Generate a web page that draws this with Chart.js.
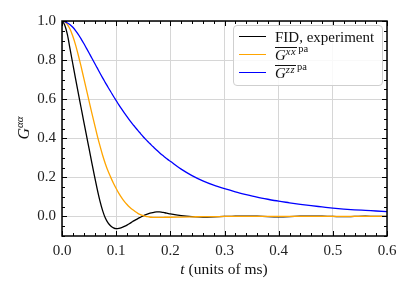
<!DOCTYPE html>
<html>
<head>
<meta charset="utf-8">
<script src="https://cdn.jsdelivr.net/npm/chart.js@4.4.1/dist/chart.umd.min.js"></script>
<style>
  body { margin: 0; background: #fff; }
  #wrap { position: relative; width: 415px; height: 295px; font-family: "Liberation Serif", serif; color: #111; }
  #legend {
    position: absolute; left: 233px; top: 25px; width: 148px; height: 59px;
    border: 1px solid #cfcfcf; border-radius: 4px; background: rgba(255,255,255,0.85);
    font-size: 15px;
  }
  .swatch { position: absolute; left: 5px; width: 27px; height: 1.4px; }
  .lbl { position: absolute; left: 41px; height: 18px; line-height: 18px; white-space: nowrap; }
  .ov { display: inline-block; border-top: 1px solid #111; line-height: 14px; padding-right: 1px; }
  .ov i.s { font-size: 10.5px; position: relative; top: -5px; letter-spacing: 0.5px; }
  .pa { font-size: 10.5px; position: relative; top: -8px; margin-left: 1px; }
  #ytitle { position: absolute; left: 4px; top: 118px; width: 40px; height: 20px; line-height: 20px; font-size: 16px; transform: rotate(-90deg); text-align: center; }
  #ytitle i.s { font-size: 11px; position: relative; top: -6px; }
  #xtitle { position: absolute; left: 124px; top: 260px; width: 200px; text-align: center; font-size: 15.5px; }
</style>
</head>
<body>
<div id="wrap">
  <canvas id="chart" width="415" height="295"></canvas>
  <div id="legend">
    <div class="swatch" style="top:10px;background:#000"></div>
    <div class="lbl" style="top:2px">FID, experiment</div>
    <div class="swatch" style="top:28px;background:#ffa500"></div>
    <div class="lbl" style="top:20px"><span class="ov"><i>G</i><i class="s">xx</i></span><span class="pa">pa</span></div>
    <div class="swatch" style="top:46px;background:#0000ff"></div>
    <div class="lbl" style="top:38px"><span class="ov"><i>G</i><i class="s">zz</i></span><span class="pa">pa</span></div>
  </div>
  <div id="ytitle"><i>G</i><i class="s">αα</i></div>
  <div id="xtitle"><i>t</i> (units of ms)</div>
</div>
<script>
const times = [
  0, 0.005, 0.01, 0.015, 0.02, 0.025, 0.03, 0.035, 0.04, 0.045,
  0.05, 0.055, 0.06, 0.065, 0.07, 0.075, 0.08, 0.085, 0.09, 0.095,
  0.1, 0.105, 0.11, 0.115, 0.12, 0.125, 0.13, 0.135, 0.14, 0.145,
  0.15, 0.155, 0.16, 0.165, 0.17, 0.175, 0.18, 0.185, 0.19, 0.195,
  0.2, 0.22, 0.24, 0.26, 0.28, 0.3, 0.32, 0.34, 0.36, 0.38,
  0.4, 0.42, 0.44, 0.46, 0.48, 0.5, 0.52, 0.54, 0.56, 0.58, 0.6
];
const fidExp = [
  1.0, 0.98, 0.93, 0.855, 0.78, 0.705, 0.632, 0.56, 0.488, 0.417,
  0.347, 0.276, 0.206, 0.14, 0.08, 0.03, -0.008, -0.033, -0.049, -0.058,
  -0.062, -0.061, -0.057, -0.051, -0.044, -0.036, -0.027, -0.019, -0.011, -0.004,
  0.003, 0.009, 0.014, 0.018, 0.021, 0.023, 0.023, 0.021, 0.019, 0.016,
  0.013, 0.004, -0.001, -0.003, -0.002, 0.0, 0.001, 0.002, 0.001, -0.001,
  -0.002, -0.001, 0.001, 0.002, 0.001, 0.0, -0.001, 0.0, 0.001, 0.0, 0.0
];
const gxx = [
  1.0, 0.996, 0.982, 0.958, 0.922, 0.878, 0.826, 0.77, 0.71, 0.65,
  0.59, 0.53, 0.472, 0.415, 0.362, 0.313, 0.27, 0.232, 0.2, 0.17,
  0.143, 0.118, 0.096, 0.077, 0.061, 0.047, 0.035, 0.025, 0.016, 0.009,
  0.004, 0.0, -0.002, -0.004, -0.005, -0.005, -0.005, -0.005, -0.004, -0.004,
  -0.004, -0.003, -0.002, -0.001, -0.001, 0.0, 0.0, 0.0, 0.0, 0.0,
  0.0, 0.0, 0.0, 0.0, 0.0, 0.0, 0.0, 0.0, 0.0, 0.0, 0.0
];
const gzz = [
  1.0, 0.997, 0.99, 0.981, 0.968, 0.951, 0.932, 0.91, 0.886, 0.861,
  0.836, 0.811, 0.785, 0.76, 0.734, 0.709, 0.685, 0.661, 0.638, 0.615,
  0.593, 0.571, 0.55, 0.53, 0.511, 0.492, 0.474, 0.457, 0.44, 0.424,
  0.408, 0.393, 0.379, 0.365, 0.352, 0.339, 0.326, 0.314, 0.303, 0.292,
  0.282, 0.242, 0.209, 0.182, 0.16, 0.142, 0.126, 0.112, 0.099, 0.088,
  0.078, 0.07, 0.062, 0.055, 0.049, 0.043, 0.038, 0.034, 0.031, 0.028, 0.025
];
const xTicks = [0, 0.1, 0.2, 0.3, 0.4, 0.5, 0.6];
const yTicks = [0, 0.2, 0.4, 0.6, 0.8, 1.0];

function pts(vals) {
  return times.map((t, i) => ({ x: t, y: vals[i] }));
}

// frame and inward ticks on all four sides, like the matplotlib style
const frameTicks = {
  id: 'frameTicks',
  afterDatasetsDraw(chart) {
    const { ctx, chartArea: a, scales } = chart;
    const xs = scales.x, ys = scales.y;
    ctx.save();
    ctx.strokeStyle = '#000';
    ctx.lineWidth = 1;
    ctx.beginPath();
    for (let i = 0; i <= 30; i++) {
      const len = (i % 5 === 0) ? 5 : 3;
      const px = Math.round(xs.getPixelForValue(i * 0.02)) + 0.5;
      ctx.moveTo(px, a.bottom); ctx.lineTo(px, a.bottom - len);
      ctx.moveTo(px, a.top); ctx.lineTo(px, a.top + len);
    }
    for (let i = -2; i <= 20; i++) {
      const len = (i % 4 === 0) ? 5 : 3;
      const py = Math.round(ys.getPixelForValue(i * 0.05)) + 0.5;
      ctx.moveTo(a.left, py); ctx.lineTo(a.left + len, py);
      ctx.moveTo(a.right, py); ctx.lineTo(a.right - len, py);
    }
    ctx.stroke();
    ctx.lineWidth = 1.5;
    ctx.strokeRect(a.left, a.top, a.right - a.left, a.bottom - a.top);
    ctx.restore();
  }
};

const line = { borderWidth: 1.3, pointRadius: 0, cubicInterpolationMode: 'monotone', fill: false };

new Chart(document.getElementById('chart'), {
  type: 'line',
  data: {
    datasets: [
      { ...line, label: 'Gzz', data: pts(gzz), borderColor: '#0000ff', order: 0 },
      { ...line, label: 'Gxx', data: pts(gxx), borderColor: '#ffa500', order: 1 },
      { ...line, label: 'FID, experiment', data: pts(fidExp), borderColor: '#000000', order: 2 }
    ]
  },
  options: {
    responsive: false,
    animation: false,
    layout: { padding: { top: 21, right: 28, left: 0, bottom: 0 } },
    plugins: { legend: { display: false }, tooltip: { enabled: false } },
    scales: {
      x: {
        type: 'linear', min: 0, max: 0.6,
        afterBuildTicks: (s) => { s.ticks = xTicks.map(v => ({ value: v })); },
        afterFit: (s) => { s.height = 59; },
        grid: { color: '#d6d6d6', lineWidth: 1, drawTicks: false },
        border: { display: false },
        ticks: {
          padding: 6, color: '#222', maxRotation: 0,
          font: { family: 'Liberation Serif', size: 15 },
          callback: (v) => v.toFixed(1)
        }
      },
      y: {
        type: 'linear', min: -0.1, max: 1.0,
        afterBuildTicks: (s) => { s.ticks = yTicks.map(v => ({ value: v })); },
        afterFit: (s) => { s.width = 62; },
        grid: { color: '#d6d6d6', lineWidth: 1, drawTicks: false },
        border: { display: false },
        ticks: {
          padding: 6, color: '#222',
          font: { family: 'Liberation Serif', size: 15 },
          callback: (v) => v.toFixed(1)
        }
      }
    }
  },
  plugins: [frameTicks]
});
</script>
</body>
</html>
